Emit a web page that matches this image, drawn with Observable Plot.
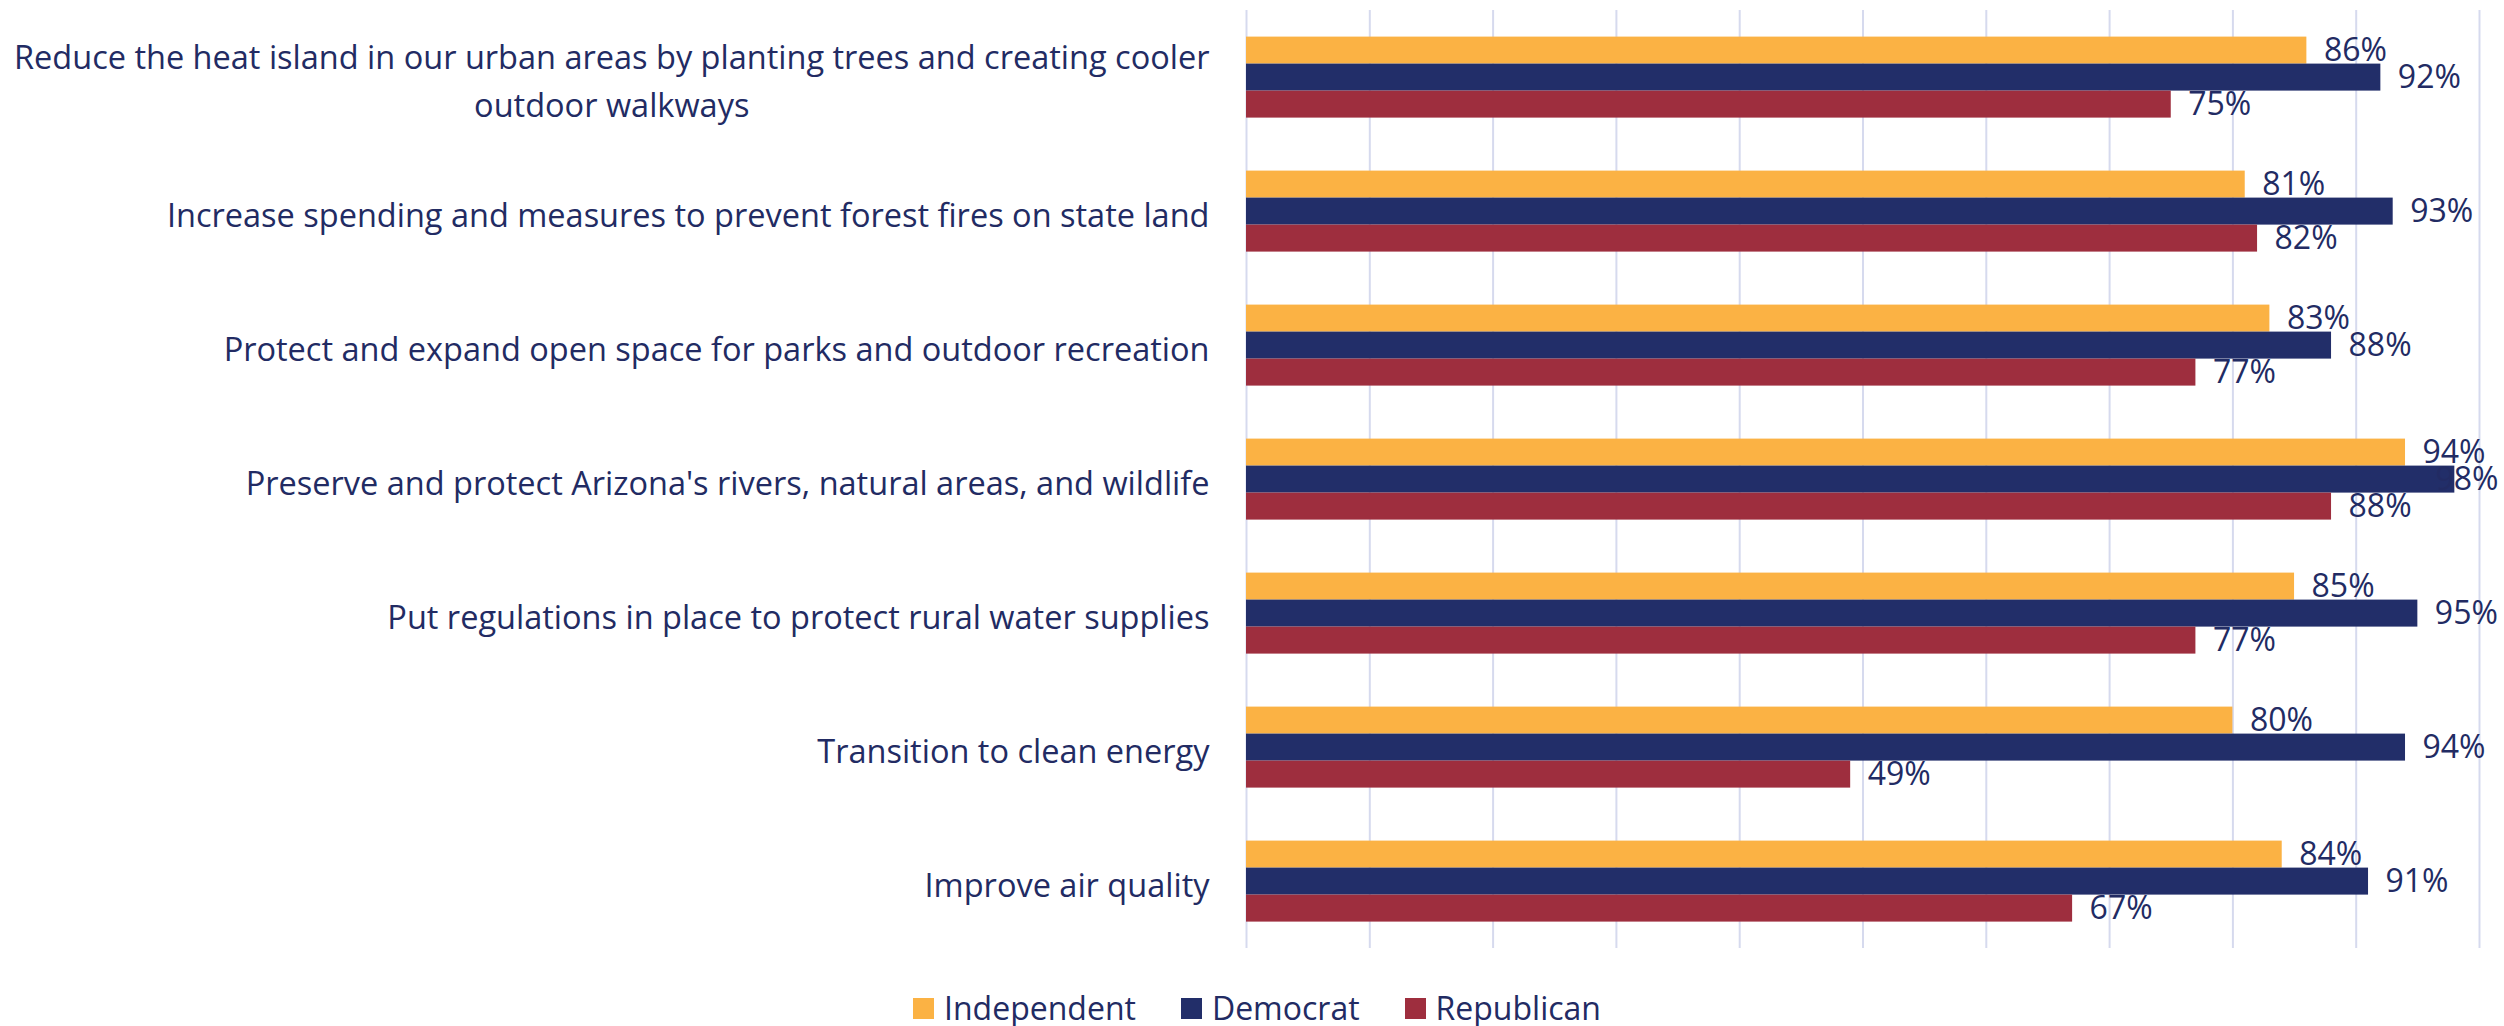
<!DOCTYPE html>
<html>
<head>
<meta charset="utf-8">
<script src="https://cdn.jsdelivr.net/npm/d3@7"></script>
<script src="https://cdn.jsdelivr.net/npm/@observablehq/plot@0.6"></script>
<style>
  html, body { margin: 0; padding: 0; background: #ffffff; }
  #legend {
    display: flex; justify-content: center; align-items: center;
    gap: 45px; padding-top: 22px; padding-left: 10px;
    font-family: "Open Sans", sans-serif; font-size: 32px; line-height: 40px;
    color: #222B63;
  }
  .item { display: flex; align-items: center; }
  .sw { width: 21px; height: 21px; margin-right: 10px; }
</style>
</head>
<body>
<div id="chart"></div>
<div id="legend"></div>
<script>
const categories = [
  "Reduce the heat island in our urban areas by planting trees and creating cooler outdoor walkways",
  "Increase spending and measures to prevent forest fires on state land",
  "Protect and expand open space for parks and outdoor recreation",
  "Preserve and protect Arizona's rivers, natural areas, and wildlife",
  "Put regulations in place to protect rural water supplies",
  "Transition to clean energy",
  "Improve air quality"
];
const categoryLabels = [
  "Reduce the heat island in our urban areas by planting trees and creating cooler\noutdoor walkways",
  "Increase spending and measures to prevent forest fires on state land",
  "Protect and expand open space for parks and outdoor recreation",
  "Preserve and protect Arizona's rivers, natural areas, and wildlife",
  "Put regulations in place to protect rural water supplies",
  "Transition to clean energy",
  "Improve air quality"
];
const parties = ["Independent", "Democrat", "Republican"];
const partyColors = ["#FBB244", "#222E69", "#9E2E3E"];
const independent = [86, 81, 83, 94, 85, 80, 84];
const democrat    = [92, 93, 88, 98, 95, 94, 91];
const republican  = [75, 82, 77, 88, 77, 49, 67];
const gridTicks = [0, 10, 20, 30, 40, 50, 60, 70, 80, 90, 100];

const seriesValues = [independent, democrat, republican];
const rows = [];
categories.forEach((c, i) => {
  parties.forEach((p, j) => rows.push({category: c, party: p, value: seriesValues[j][i]}));
});

const textColor = "#222B63";
const fits = rows.filter(d => d.value <= 95.5);
const overflow = rows.filter(d => d.value > 95.5);

const chart = Plot.plot({
  width: 2504,
  height: 966,
  marginLeft: 1246,
  marginRight: 25,
  marginTop: 9.4,
  marginBottom: 17.4,
  style: {fontFamily: "'Open Sans', sans-serif", fontSize: "32px", color: textColor, background: "#ffffff"},
  x: {domain: [0, 100], axis: null},
  y: {domain: parties, paddingInner: 0, paddingOuter: 0.905, axis: null},
  fy: {domain: categories, padding: 0},
  color: {domain: parties, range: partyColors},
  marks: [
    Plot.ruleX(gridTicks, {x: d => d, stroke: "#D6DAEE", strokeWidth: 2}),
    Plot.barX(rows, {x: "value", y: "party", fy: "category", fill: "party"}),
    Plot.text(fits, {x: "value", y: "party", fy: "category", text: d => d.value + "%",
      textAnchor: "start", dx: 17, fill: textColor, fontSize: 32}),
    Plot.text(overflow, {y: "party", fy: "category", text: d => d.value + "%",
      frameAnchor: "right", textAnchor: "end", dx: 19, fill: textColor, fontSize: 32}),
    Plot.axisFy({anchor: "left", tickSize: 0, tickPadding: 37, label: null, lineHeight: 1.48,
      fontSize: 32.5, fill: textColor,
      tickFormat: d => categoryLabels[categories.indexOf(d)]})
  ]
});
document.getElementById("chart").append(chart);

// Center the wrapped lines of a multi-line category label (as in the original)
chart.querySelectorAll("text").forEach(t => {
  const spans = t.querySelectorAll("tspan");
  if (spans.length > 1) {
    let maxW = 0;
    spans.forEach(s => { maxW = Math.max(maxW, s.getComputedTextLength()); });
    t.setAttribute("text-anchor", "middle");
    spans.forEach(s => {
      const x0 = +(s.getAttribute("x") || 0);
      s.setAttribute("x", x0 - maxW / 2);
    });
  }
});

const legend = document.getElementById("legend");
parties.forEach((p, i) => {
  const item = document.createElement("div");
  item.className = "item";
  const sw = document.createElement("span");
  sw.className = "sw";
  sw.style.background = partyColors[i];
  const label = document.createElement("span");
  label.textContent = p;
  item.append(sw, label);
  legend.append(item);
});
</script>
</body>
</html>
